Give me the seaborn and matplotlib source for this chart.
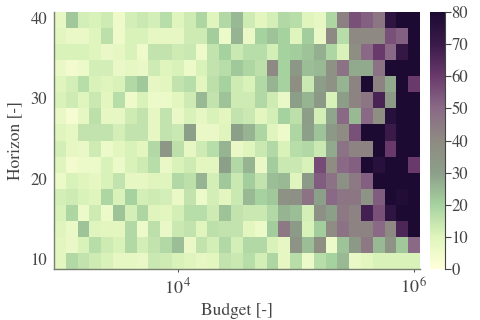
import matplotlib
matplotlib.use("Agg")
import matplotlib.pyplot as plt
import numpy as np
import pandas as pd
import seaborn as sns

# horizon values, top row first
horizons = [40, 38, 36, 34, 32, 30, 28, 26, 24, 22, 20, 18, 16, 14, 12, 10]
budget_exp = [round(3 + 0.1 * i, 1) for i in range(31)]

h40 = [8, 22, 12, 11, 13, 5, 12, 14, 12, 17, 10, 13, 19, 10, 18, 25, 13, 9, 12, 18, 17, 10, 8, 19, 43, 55, 52, 46, 74, 80, 80]
h38 = [9, 7, 7, 10, 16, 5, 11, 11, 8, 8, 8, 13, 13, 21, 6, 26, 7, 20, 23, 20, 10, 21, 7, 40, 17, 40, 40, 40, 55, 52, 80]
h36 = [11, 11, 11, 10, 7, 8, 11, 5, 15, 15, 13, 14, 5, 15, 20, 14, 17, 17, 12, 20, 21, 23, 27, 19, 11, 38, 50, 60, 50, 72, 80]
h34 = [7, 4, 6, 12, 12, 7, 8, 7, 13, 10, 11, 6, 11, 15, 17, 22, 19, 16, 40, 20, 34, 24, 25, 36, 47, 28, 28, 47, 80, 80, 80]
h32 = [10, 12, 17, 11, 10, 11, 18, 22, 8, 9, 15, 17, 9, 16, 20, 13, 11, 18, 26, 20, 38, 14, 31, 36, 26, 42, 80, 42, 28, 80, 60]
h30 = [11, 13, 10, 14, 9, 17, 5, 11, 6, 6, 9, 13, 25, 15, 23, 13, 13, 18, 13, 7, 31, 26, 33, 11, 31, 42, 46, 67, 33, 80, 80]
h28 = [7, 3, 8, 16, 8, 8, 13, 15, 8, 15, 7, 11, 8, 11, 9, 15, 14, 9, 12, 20, 16, 31, 12, 29, 50, 25, 50, 38, 76, 80, 80]
h26 = [10, 8, 15, 15, 15, 12, 15, 15, 8, 15, 14, 30, 7, 7, 10, 30, 26, 19, 10, 5, 19, 30, 23, 33, 39, 55, 80, 80, 70, 80, 80]
h24 = [12, 8, 7, 13, 6, 9, 11, 9, 18, 34, 16, 8, 13, 17, 26, 7, 10, 14, 18, 11, 17, 18, 14, 28, 47, 42, 42, 80, 60, 80, 80]
h22 = [10, 4, 6, 6, 11, 6, 11, 13, 17, 7, 11, 13, 9, 9, 30, 18, 26, 7, 21, 14, 14, 11, 56, 39, 50, 52, 80, 76, 80, 80, 60]
h20 = [6, 11, 10, 8, 11, 15, 8, 8, 10, 10, 18, 16, 26, 12, 22, 14, 21, 15, 24, 25, 10, 32, 53, 47, 37, 45, 52, 80, 80, 80, 80]
h18 = [12, 13, 11, 10, 19, 11, 20, 12, 13, 12, 7, 15, 6, 12, 9, 14, 25, 20, 22, 36, 37, 47, 30, 50, 46, 46, 35, 53, 80, 78, 80]
h16 = [11, 19, 6, 13, 6, 23, 12, 19, 10, 9, 12, 17, 17, 13, 23, 15, 14, 14, 18, 26, 24, 12, 37, 30, 45, 42, 68, 55, 74, 80, 80]
h14 = [10, 7, 23, 10, 9, 9, 18, 6, 16, 7, 14, 15, 10, 16, 15, 15, 9, 6, 21, 45, 32, 11, 21, 39, 47, 42, 42, 50, 40, 66, 80]
h12 = [9, 7, 11, 17, 13, 11, 18, 12, 15, 18, 24, 7, 15, 12, 18, 12, 18, 18, 11, 8, 35, 24, 38, 6, 23, 33, 45, 25, 35, 22, 50]
h10 = [9, 18, 15, 13, 11, 8, 8, 7, 14, 13, 11, 10, 8, 9, 15, 14, 17, 12, 19, 8, 17, 6, 17, 20, 25, 7, 9, 11, 11, 11, 11]

rows = [h40, h38, h36, h34, h32, h30, h28, h26, h24, h22, h20, h18, h16, h14, h12, h10]
df = pd.DataFrame(rows, index=horizons, columns=budget_exp)

# ---- colours ----
cmap = sns.blend_palette(
    ["#ffffd9", "#dff5bd", "#a6d29f", "#8c9f89", "#8e8a82", "#8a6a86", "#6a3a6c", "#3a1a4a", "#1c0a33"],
    as_cmap=True,
)

plt.rcParams["font.family"] = ["STIXGeneral", "Liberation Serif", "DejaVu Serif"]
plt.rcParams["mathtext.fontset"] = "stix"
text_col = "#444444"

fig = plt.figure(figsize=(4.8, 3.2), dpi=100)
ax = fig.add_axes([54 / 480, 1 - 269 / 320, 366 / 480, 257 / 320])
cax = fig.add_axes([430 / 480, 1 - 269 / 320, 14.5 / 480, 257 / 320])

sns.heatmap(df, ax=ax, cbar_ax=cax, cmap=cmap, vmin=0, vmax=80, linewidths=0, rasterized=True)

ax.set_xticks([10.5, 30.5])
ax.set_xticklabels([r"$10^{\,4}$", r"$10^{\,6}$"], rotation=0)
ax.set_yticks([15.5, 10.5, 5.5, 0.5])
ax.set_yticklabels(["10", "20", "30", "40"], rotation=0)
ax.tick_params(axis="x", length=2, width=0.8, color="#555555", labelsize=13, labelcolor=text_col, pad=4)
ax.tick_params(axis="y", length=0, labelsize=12, labelcolor=text_col, pad=5)
ax.set_xlabel("Budget [-]", fontsize=12.5, color=text_col, labelpad=4)
ax.set_ylabel("Horizon [-]", fontsize=12.5, color=text_col, labelpad=5)

for side in ["left", "bottom"]:
    ax.spines[side].set_visible(True)
    ax.spines[side].set_color("#777f70")
    ax.spines[side].set_linewidth(1.0)

cax.set_yticks([0, 10, 20, 30, 40, 50, 60, 70, 80])
cax.tick_params(axis="y", length=4, width=0.8, color="#444444", labelsize=12, labelcolor=text_col, pad=1)
cax.spines["right"].set_visible(True)
cax.spines["right"].set_color("#444444")
cax.spines["right"].set_linewidth(0.8)

fig.savefig("out.png", dpi=100)
plt.close()
